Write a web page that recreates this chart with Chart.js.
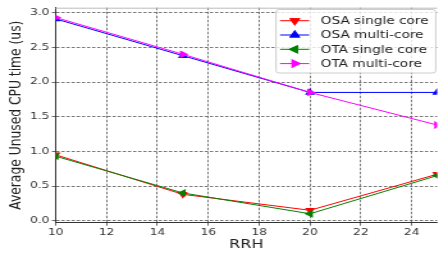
<!DOCTYPE html>
<html>
<head>
<meta charset="utf-8">
<script src="https://cdn.jsdelivr.net/npm/chart.js@4/dist/chart.umd.min.js"></script>
<style>
  html, body { margin: 0; padding: 0; background: #fff; overflow: hidden; }
  /* the original figure was squeezed vertically, so stretch the canvas sideways */
  #wrap { width: 346px; height: 253px; transform: scaleX(1.28); transform-origin: 0 0; }
</style>
</head>
<body>
<div id="wrap"><canvas id="cpuChart" width="346" height="253"></canvas></div>
<script>
// data
const rrh = [10, 15, 20, 25];
const osaSingle = [0.95, 0.38, 0.15, 0.67];
const osaMulti = [2.91, 2.38, 1.85, 1.85];
const otaSingle = [0.93, 0.40, 0.10, 0.65];
const otaMulti = [2.93, 2.40, 1.85, 1.38];
const xTicks = [10, 12, 14, 16, 18, 20, 22, 24];
const yTicks = [0.0, 0.5, 1.0, 1.5, 2.0, 2.5, 3.0];

const FONT = 'DejaVu Sans';

function pts(ys) {
    return rrh.map((x, i) => ({ x: x, y: ys[i] }));
}

function series(label, ys, color, rot, order) {
    return {
        label: label,
        data: pts(ys),
        borderColor: color,
        backgroundColor: color,
        borderWidth: 1,
        pointStyle: 'triangle',
        pointRotation: rot,
        pointRadius: 4.5,
        pointBorderWidth: 0,
        tension: 0,
        order: order
    };
}

// legend drawn like matplotlib: short line with the marker on it
const mplLegend = {
    id: 'mplLegend',
    afterDraw(chart) {
        const ctx = chart.ctx;
        ctx.save();
        ctx.fillStyle = 'rgba(255,255,255,0.8)';
        ctx.strokeStyle = '#cccccc';
        ctx.lineWidth = 1;
        ctx.beginPath();
        ctx.roundRect(215.6, 9.5, 124.8, 63.5, 2.5);
        ctx.fill();
        ctx.stroke();
        ctx.font = '10.7px ' + FONT;
        ctx.textBaseline = 'middle';
        chart.data.datasets.forEach((ds, i) => {
            const y = 20.7 + i * 14.3;
            ctx.strokeStyle = ds.borderColor;
            ctx.lineWidth = 1;
            ctx.beginPath();
            ctx.moveTo(218.8, y);
            ctx.lineTo(241.6, y);
            ctx.stroke();
            ctx.fillStyle = ds.borderColor;
            Chart.helpers.drawPoint(ctx, {
                pointStyle: 'triangle', rotation: ds.pointRotation,
                radius: 5, borderWidth: 0
            }, 230.3, y);
            ctx.fill();
            ctx.fillStyle = '#222';
            ctx.fillText(ds.label, 250.5, y + 0.5);
        });
        ctx.restore();
    }
};

// top frame line of the axes
const frameTop = {
    id: 'frameTop',
    beforeDatasetsDraw(chart) {
        const a = chart.chartArea, ctx = chart.ctx;
        ctx.save();
        ctx.strokeStyle = '#bbbbbb';
        ctx.lineWidth = 1;
        ctx.beginPath();
        ctx.moveTo(a.left, a.top + 0.5);
        ctx.lineTo(a.right, a.top + 0.5);
        ctx.stroke();
        ctx.restore();
    }
};

const gridStyle = {
    color: '#555555',
    lineWidth: 0.8,
    drawTicks: true,
    tickLength: 3,
    tickColor: '#444444',
    tickBorderDash: []
};

const borderStyle = { display: true, color: '#333333', width: 1, dash: [2.5, 1.5] };

new Chart(document.getElementById('cpuChart'), {
    type: 'line',
    data: {
        datasets: [
            series('OSA single core', osaSingle, '#ff0000', 180, 4),
            series('OSA multi-core', osaMulti, '#0000ff', 0, 3),
            series('OTA single core', otaSingle, '#008000', 270, 2),
            series('OTA multi-core', otaMulti, '#ff00ff', 90, 1)
        ]
    },
    options: {
        responsive: false,
        animation: false,
        events: [],
        layout: { padding: { top: 7, right: 0, left: 0, bottom: 0 } },
        plugins: {
            legend: { display: false },
            tooltip: { enabled: false }
        },
        scales: {
            x: {
                type: 'linear',
                min: 10,
                max: 25,
                afterBuildTicks: (s) => { s.ticks = xTicks.map(v => ({ value: v })); },
                afterFit: (s) => { s.height = 30.3; },
                grid: gridStyle,
                border: borderStyle,
                ticks: {
                    color: '#333333',
                    font: { family: FONT, size: 9.5 },
                    padding: 1,
                    maxRotation: 0
                },
                title: {
                    display: true,
                    text: 'RRH',
                    color: '#222222',
                    font: { family: FONT, size: 12.5 },
                    padding: { top: 0, bottom: 1 }
                }
            },
            y: {
                min: -0.029,
                max: 3.072,
                afterBuildTicks: (s) => { s.ticks = yTicks.map(v => ({ value: v })); },
                afterFit: (s) => { s.width = 43.5; },
                grid: gridStyle,
                border: borderStyle,
                ticks: {
                    color: '#333333',
                    font: { family: FONT, size: 9.5 },
                    padding: 2,
                    callback: (v) => v.toFixed(1)
                },
                title: {
                    display: true,
                    text: 'Average Unused CPU time (us)',
                    color: '#222222',
                    font: { family: FONT, size: 12.3 },
                    padding: { top: 5, bottom: 0 }
                }
            }
        }
    },
    plugins: [frameTop, mplLegend]
});
</script>
</body>
</html>
